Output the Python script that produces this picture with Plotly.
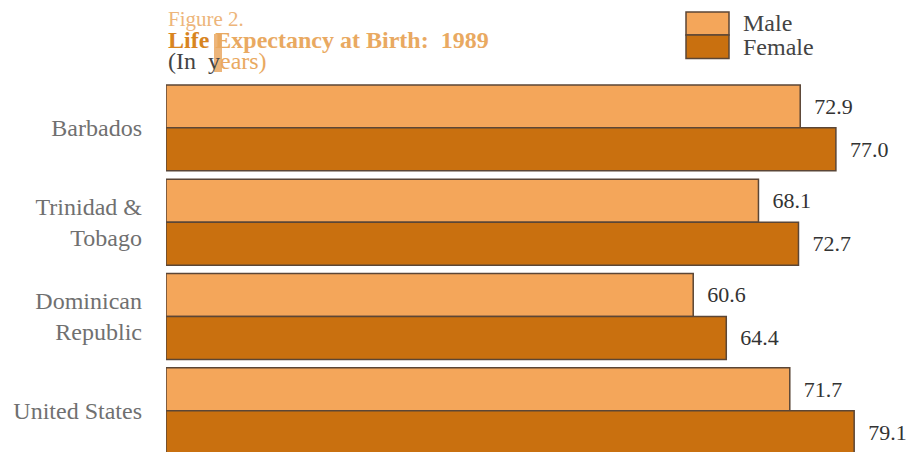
import plotly.graph_objects as go

countries = ["Barbados", "Trinidad &<br>Tobago", "Dominican<br>Republic", "United States"]
male = [72.9, 68.1, 60.6, 71.7]
female = [77.0, 72.7, 64.4, 79.1]
positions = [0, 1, 2, 3]

# page body has an 8px default margin; lay out in page pixels and compensate
OFF = 8
W, H = 917 - OFF, 452 - OFF
L = 166 - OFF
SERIF = "Liberation Serif, Times New Roman, serif"
MALE_C = "#F4A65A"
FEMALE_C = "#C9700F"
EDGE = "#5B4636"

def px(x):
    return (x - OFF - L) / (W - L)

def py(y):
    return 1 - (y - OFF) / H

fig = go.Figure()
for name, vals, col in [("Male", male, MALE_C), ("Female", female, FEMALE_C)]:
    fig.add_trace(go.Bar(
        y=positions, x=vals, name=name, orientation="h",
        marker=dict(color=col, line=dict(color=EDGE, width=1.5)),
        text=vals, texttemplate="\u00a0\u00a0%{x:.1f}", textposition="outside",
        textfont=dict(family=SERIF, size=22, color="#333333"),
        cliponaxis=False, constraintext="none",
    ))

shapes = [
    dict(type="rect", xref="paper", yref="paper", x0=px(214), x1=px(222), y0=py(72), y1=py(34),
         fillcolor="#EDB57A", line=dict(width=0), layer="below"),
    dict(type="rect", xref="paper", yref="paper", x0=px(686), x1=px(729), y0=py(35), y1=py(12),
         fillcolor=MALE_C, line=dict(color=EDGE, width=1.5)),
    dict(type="rect", xref="paper", yref="paper", x0=px(686), x1=px(729), y0=py(58.5), y1=py(35),
         fillcolor=FEMALE_C, line=dict(color=EDGE, width=1.5)),
]

ORANGE = "#E9A961"
annotations = [
    dict(text="Figure 2.", x=px(166), y=py(19), font=dict(size=21, color="#EDB57A")),
    dict(text="<b><span style='color:#D8851F'>Life </span>Expectancy at Birth:  1989</b>",
         x=px(166), y=py(40), font=dict(size=24, color=ORANGE)),
    dict(text="<span style='color:#444444'>(In  y</span>ears)",
         x=px(166), y=py(61), font=dict(size=24, color=ORANGE)),
    dict(text="Male", x=px(741), y=py(23), font=dict(size=24, color="#444444")),
    dict(text="Female", x=px(741), y=py(47), font=dict(size=24, color="#444444")),
]
for a in annotations:
    a.update(xref="paper", yref="paper", xanchor="left", yanchor="middle", showarrow=False)
    a["font"]["family"] = SERIF

SCALE = 8.70          # pixels per year
GROUP = 94.3          # pixels per country group
first_center = 127.9  # page px of first group centre
y_top = 0 - (first_center - OFF) / GROUP
y_bot = 3 + (452 - 410.7) / GROUP

fig.update_layout(
    width=W, height=H,
    margin=dict(l=L, r=0, t=0, b=0, autoexpand=False),
    paper_bgcolor="white", plot_bgcolor="white",
    barmode="group", bargap=0.088, bargroupgap=0,
    showlegend=False,
    shapes=shapes, annotations=annotations,
    xaxis=dict(range=[0, (W - L) / SCALE], visible=False, fixedrange=True, automargin=False),
    yaxis=dict(range=[y_bot, y_top], tickvals=positions, ticktext=countries,
               showgrid=False, zeroline=False, showline=False, ticks="",
               ticklabelstandoff=23, automargin=False,
               tickfont=dict(family=SERIF, size=24, color="#707070")),
)

fig.write_html("out.html")
